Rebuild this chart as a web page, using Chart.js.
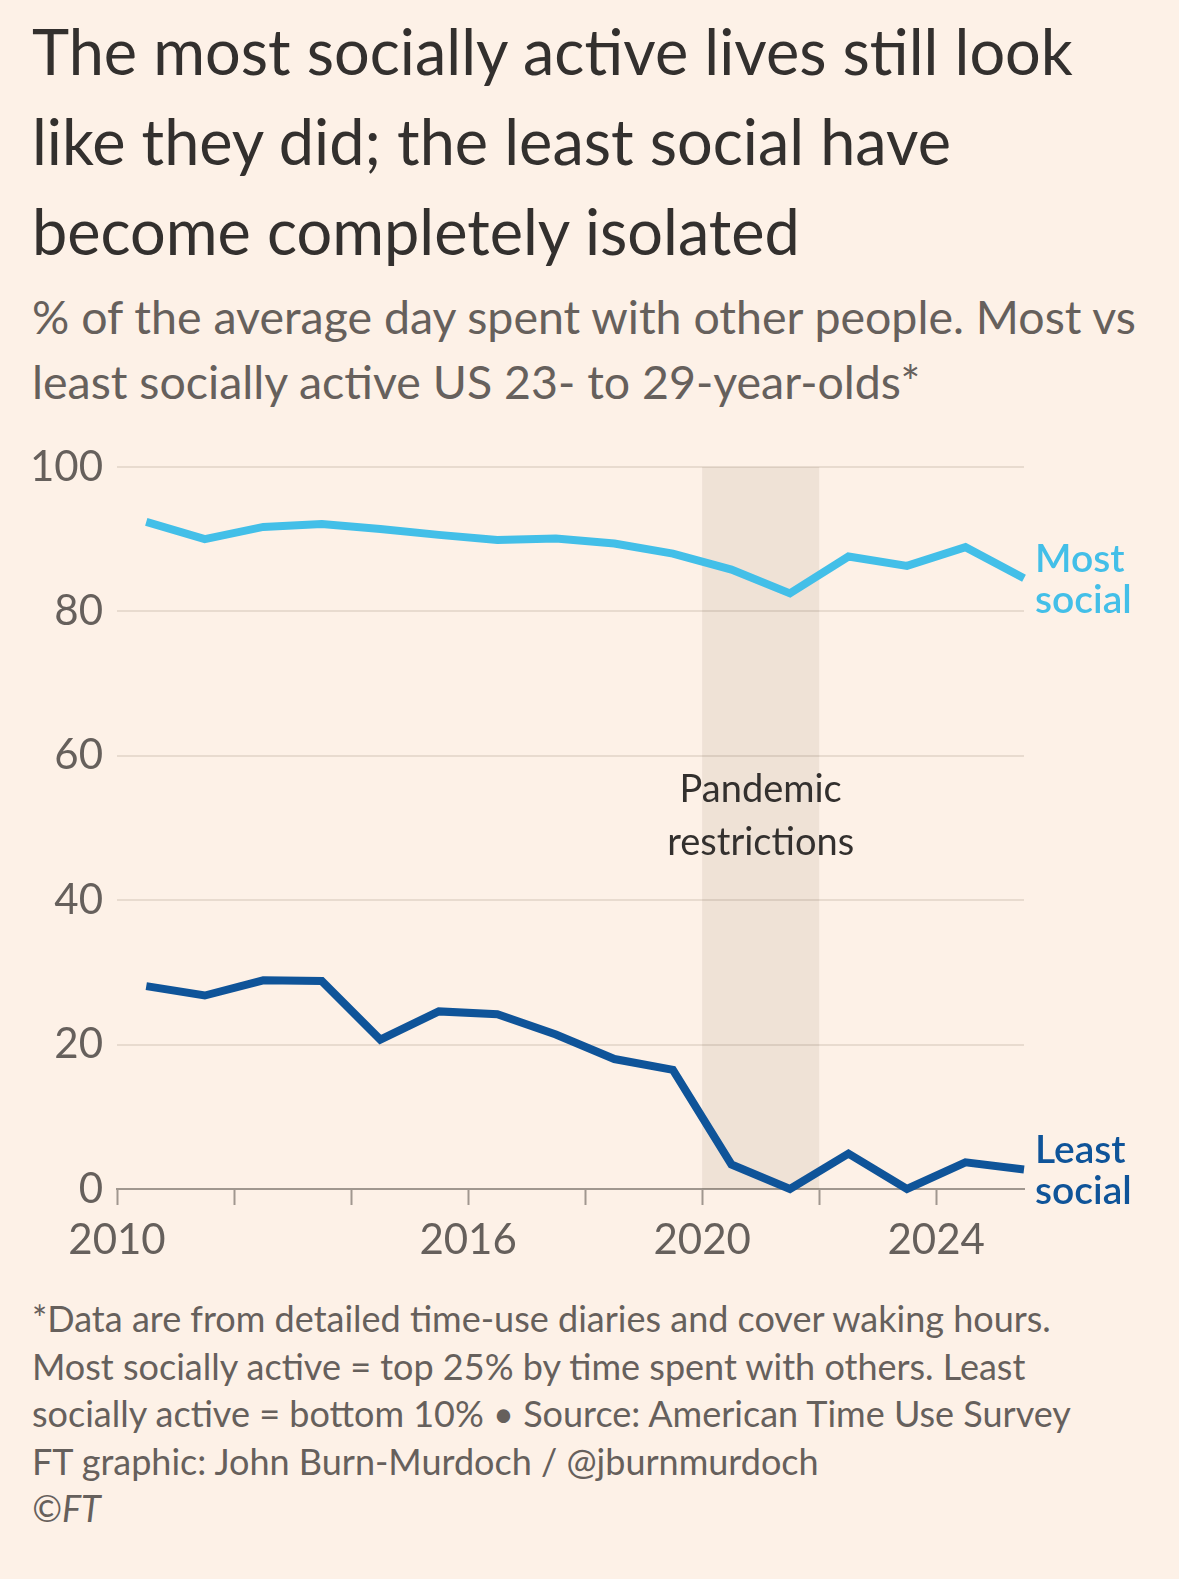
<!DOCTYPE html>
<html>
<head>
<meta charset="utf-8">
<script src="https://cdn.jsdelivr.net/npm/chart.js@4.4.1/dist/chart.umd.min.js"></script>
<style>
  body { margin: 0; background: #fdf1e7; width: 1179px; height: 1579px; position: relative; overflow: hidden; font-family: Lato, "Open Sans", sans-serif; }
  #title { position: absolute; left: 32px; top: 6px; font-size: 63px; line-height: 90px; color: #33302e; white-space: nowrap; }
  #subtitle { position: absolute; left: 32px; top: 284px; font-size: 46.5px; line-height: 65px; color: #66605c; white-space: nowrap; }
  #notes { position: absolute; left: 32px; top: 1295px; font-size: 36px; line-height: 47.5px; color: #66605c; white-space: nowrap; }
  #chartBox { position: absolute; left: 0; top: 427px; width: 1179px; height: 850px; }
</style>
</head>
<body>
<div id="title">The most socially active lives still look<br>like they did; the least social have<br>become completely isolated</div>
<div id="subtitle">% of the average day spent with other people. Most vs<br>least socially active US 23- to 29-year-olds*</div>
<div id="chartBox"><canvas id="myLineChart"></canvas></div>
<div id="notes">*Data are from detailed time-use diaries and cover waking hours.<br>Most socially active = top 25% by time spent with others. Least<br>socially active = bottom 10% • Source: American Time Use Survey<br>FT graphic: John Burn-Murdoch / @jburnmurdoch<br><i>©FT</i></div>

<script>
// values (points sit mid-year)
const years = [2010.5, 2011.5, 2012.5, 2013.5, 2014.5, 2015.5, 2016.5, 2017.5,
               2018.5, 2019.5, 2020.5, 2021.5, 2022.5, 2023.5, 2024.5, 2025.5];
const mostSocial = [92.4, 90.0, 91.7, 92.1, 91.4, 90.6, 89.9, 90.1,
                    89.4, 88.0, 85.8, 82.5, 87.6, 86.3, 88.9, 84.6];
const leastSocial = [28.1, 26.8, 28.9, 28.8, 20.7, 24.6, 24.2, 21.4,
                     18.0, 16.5, 3.4, 0, 4.9, 0, 3.7, 2.7];
const seriesNames = [['Most', 'social'], ['Least', 'social']];
const seriesColors = ['#43bfe8', '#0f5499'];
const xLabelYears = [2010, 2016, 2020, 2024];
const yTicks = [0, 20, 40, 60, 80, 100];
const pandemic = [2020, 2022];
const pandemicText = ['Pandemic', 'restrictions'];

function toPoints(vals) {
    return vals.map((v, i) => ({ x: years[i], y: v }));
}

// grey band for the pandemic years, drawn over the gridlines
const bandPlugin = {
    id: 'band',
    beforeDatasetsDraw(chart) {
        const { ctx, scales: { x, y } } = chart;
        const x0 = x.getPixelForValue(pandemic[0]);
        const x1 = x.getPixelForValue(pandemic[1]);
        const top = y.getPixelForValue(100);
        const bottom = y.getPixelForValue(0);
        ctx.save();
        ctx.fillStyle = 'rgba(60, 30, 0, 0.07)';
        ctx.fillRect(x0, top, x1 - x0, bottom - top);
        ctx.fillStyle = '#33302e';
        ctx.font = '38px Lato, sans-serif';
        ctx.textAlign = 'center';
        ctx.textBaseline = 'middle';
        const cx = (x0 + x1) / 2;
        ctx.fillText(pandemicText[0], cx, y.getPixelForValue(55.3));
        ctx.fillText(pandemicText[1], cx, y.getPixelForValue(48.0));
        ctx.restore();
    }
};

// series names at the end of each line
const endLabels = {
    id: 'endLabels',
    afterDatasetsDraw(chart) {
        const ctx = chart.ctx;
        ctx.save();
        ctx.font = '600 39px Lato, sans-serif';
        ctx.textAlign = 'left';
        ctx.textBaseline = 'middle';
        chart.data.datasets.forEach((ds, i) => {
            const pts = chart.getDatasetMeta(i).data;
            const last = pts[pts.length - 1];
            ctx.fillStyle = seriesColors[i];
            ctx.fillText(seriesNames[i][0], last.x + 11, last.y - 19);
            ctx.fillText(seriesNames[i][1], last.x + 11, last.y + 22);
        });
        ctx.restore();
    }
};

const ctx = document.getElementById('myLineChart').getContext('2d');
const myChart = new Chart(ctx, {
    type: 'line',
    data: {
        datasets: [{
            label: 'Most social',
            data: toPoints(mostSocial),
            borderColor: seriesColors[0],
            borderWidth: 8,
            pointRadius: 0,
            tension: 0,
            clip: false
        }, {
            label: 'Least social',
            data: toPoints(leastSocial),
            borderColor: seriesColors[1],
            borderWidth: 8,
            pointRadius: 0,
            tension: 0,
            clip: false
        }]
    },
    options: {
        responsive: true,
        maintainAspectRatio: false,
        animation: false,
        layout: { padding: { top: 40, right: 155, left: 0, bottom: 0 } },
        plugins: { legend: { display: false }, tooltip: { enabled: false } },
        scales: {
            x: {
                type: 'linear',
                min: 2010,
                max: 2025.5,
                afterFit(scale) { scale.height = 88; },
                ticks: {
                    stepSize: 2,
                    includeBounds: false,
                    autoSkip: false,
                    maxRotation: 0,
                    padding: 10,
                    color: '#66605c',
                    font: { family: 'Lato', size: 42 },
                    callback: (v) => xLabelYears.includes(v) ? String(v) : ''
                },
                grid: {
                    drawOnChartArea: false,
                    drawTicks: true,
                    tickLength: 16,
                    tickWidth: 2,
                    tickColor: '#a0978f'
                },
                border: { color: '#a0978f', width: 2 }
            },
            y: {
                min: 0,
                max: 100,
                afterFit(scale) { scale.width = 117; },
                afterBuildTicks(scale) { scale.ticks = yTicks.map(v => ({ value: v })); },
                ticks: {
                    padding: 14,
                    color: '#66605c',
                    font: { family: 'Lato', size: 42 }
                },
                grid: {
                    drawTicks: false,
                    lineWidth: 2,
                    color: (c) => c.tick && c.tick.value === 0 ? 'rgba(0,0,0,0)' : '#e8dbcf'
                },
                border: { display: false }
            }
        }
    },
    plugins: [bandPlugin, endLabels]
});
</script>
</body>
</html>
